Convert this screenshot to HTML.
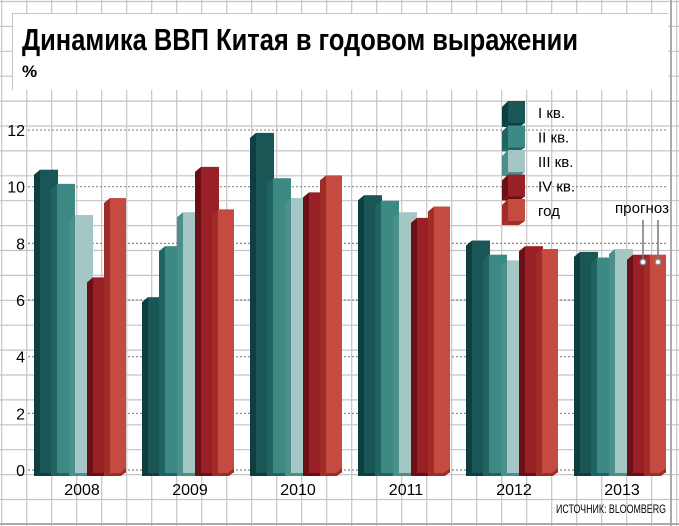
<!DOCTYPE html><html><head><meta charset="utf-8"><style>
html,body{margin:0;padding:0;background:#fff}
svg{display:block}
text{font-family:"Liberation Sans","DejaVu Sans",sans-serif}
</style></head><body>
<svg id="s" width="679" height="526" viewBox="0 0 679 526" xmlns="http://www.w3.org/2000/svg">
<rect width="679" height="526" fill="#fff"/>
<g id="grid" stroke="#c4c4c4" stroke-width="1.2"></g>
<rect x="12" y="13" width="656" height="77" fill="#fff"/>
<line x1="12.5" y1="13" x2="12.5" y2="90" stroke="#c4c4c4"/>
<line x1="12" y1="13.5" x2="668" y2="13.5" stroke="#c4c4c4"/>
<text x="22" y="50" font-size="31" font-weight="bold" textLength="556" lengthAdjust="spacingAndGlyphs" fill="#000">Динамика ВВП Китая в годовом выражении</text>
<text x="22" y="77" font-size="17" font-weight="bold" fill="#000">%</text>
<g id="axis"></g>
<g id="bars"></g>
<g id="legend"></g>
<text x="615" y="213" font-size="15" fill="#000" textLength="54" lengthAdjust="spacingAndGlyphs">прогноз</text>
<line x1="643" y1="220" x2="643" y2="260" stroke="#777" stroke-width="1.5"/>
<line x1="658" y1="220" x2="658" y2="260" stroke="#777" stroke-width="1.5"/>
<circle cx="643" cy="262" r="2.8" fill="#fff" stroke="#888" stroke-width="1.3"/>
<circle cx="658" cy="262" r="2.8" fill="#fff" stroke="#888" stroke-width="1.3"/>
<text x="556" y="513" font-size="12" fill="#000" textLength="110" lengthAdjust="spacingAndGlyphs">ИСТОЧНИК: BLOOMBERG</text>
</svg>
<script>
var NS="http://www.w3.org/2000/svg";
function el(p,t,a,txt){var e=document.createElementNS(NS,t);for(var k in a)e.setAttribute(k,a[k]);if(txt!==undefined)e.textContent=txt;p.appendChild(e);return e;}
var g=document.getElementById('grid');
for(var x=1.7;x<679;x+=25)el(g,'line',{x1:x,y1:0,x2:x,y2:526});
for(var y=1.5;y<526;y+=24.9)el(g,'line',{x1:0,y1:y,x2:679,y2:y});
el(g,'line',{x1:671,y1:0,x2:671,y2:526,stroke:'#aaa','stroke-width':2});
el(g,'line',{x1:0,y1:524,x2:679,y2:524,stroke:'#aaa','stroke-width':2});
var ax=document.getElementById('axis');
function Y(v){return 470-28.33*v;}
for(var v=0;v<=12;v+=2){var yy=Y(v);
 el(ax,'line',{x1:28,y1:yy,x2:668,y2:yy,stroke:'#888','stroke-width':1.2,'stroke-dasharray':'2,2'});
 el(ax,'text',{x:25,y:yy+6,'font-size':16,'text-anchor':'end',fill:'#000'},String(v));}
var yrs=['2008','2009','2010','2011','2012','2013'];
var data=[[10.6,10.1,9.0,6.8,9.6],[6.1,7.9,9.1,10.7,9.2],[11.9,10.3,9.6,9.8,10.4],[9.7,9.5,9.1,8.9,9.3],[8.1,7.6,7.4,7.9,7.8],[7.7,7.5,7.8,7.6,7.6]];
var front=['#1a5656','#3d8a85','#a4c7c5','#9a2027','#c54b40'];
var side=['#0e3f40','#1f6462','#4a8f8a','#6c0f15','#a02c28'];
var b=document.getElementById('bars');
for(var gi=0;gi<6;gi++){var x0=35+gi*108;
 var xs=[x0+5,x0+22,x0+40,x0+58,x0+75];
 for(var i=0;i<5;i++){var x=xs[i],w=(i==4?16:18),t=Y(data[gi][i]),bot=473;
  el(b,'polygon',{points:(x-6)+','+(t+5)+' '+x+','+t+' '+x+','+bot+' '+(x-6)+','+bot,fill:side[i]});
  el(b,'rect',{x:x,y:t,width:(i==4?w+0:w),height:bot-t,fill:front[i]});
  el(b,'polygon',{points:(x-6)+','+bot+' '+(x+w-6)+','+bot+' '+(x+w)+','+(bot-5)+' '+(x+w)+','+(bot-1)+' '+(x+w-5)+','+(bot+3)+' '+(x-6)+','+(bot+3),fill:side[i]});
 }
 el(b,'text',{x:x0+47,y:495,'font-size':16,'text-anchor':'middle',fill:'#000'},yrs[gi]);
}
var L=document.getElementById('legend');
var labs=['I кв.','II кв.','III кв.','IV кв.','год'];
for(var i=0;i<5;i++){var y=101+i*24.5;
 el(L,'polygon',{points:'502,'+(y+6)+' 508,'+y+' 508,'+(y+22)+' 502,'+(y+26),fill:side[i]});
 el(L,'rect',{x:508,y:y,width:17,height:22,fill:front[i]});
 el(L,'polygon',{points:'502,'+(y+26)+' 519,'+(y+26)+' 525,'+(y+22)+' 508,'+(y+22),fill:side[i]});
 el(L,'text',{x:538,y:y+17,'font-size':15,fill:'#000'},labs[i]);}
</script>
</body></html>
